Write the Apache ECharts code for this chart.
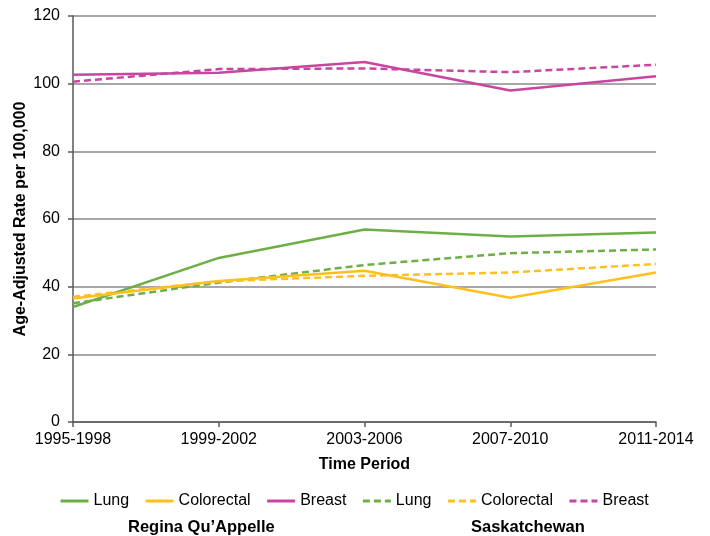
<!DOCTYPE html>
<html>
<head>
<meta charset="utf-8">
<script src="https://cdn.jsdelivr.net/npm/echarts@6/dist/echarts.min.js"></script>
<style>
  html, body { margin: 0; padding: 0; background: #fff; }
  #chart { width: 710px; height: 536px; }
</style>
</head>
<body>
<div id="chart"></div>
<script>
// Time periods on the x axis
const periods = ['1995-1998', '1999-2002', '2003-2006', '2007-2010', '2011-2014'];

// Age-adjusted incidence rates per 100,000 — Regina Qu'Appelle
const rqLung = [34.0, 48.5, 56.9, 54.8, 56.0];
const rqColorectal = [36.5, 41.7, 44.7, 36.7, 44.2];
const rqBreast = [102.6, 103.2, 106.4, 98.0, 102.2];

// Age-adjusted incidence rates per 100,000 — Saskatchewan
const skLung = [35.1, 41.2, 46.4, 49.9, 51.0];
const skColorectal = [37.0, 41.6, 43.2, 44.2, 46.7];
const skBreast = [100.6, 104.3, 104.5, 103.4, 105.6];

const groupLabels = ['Regina Qu\u2019Appelle', 'Saskatchewan'];

const GREEN = '#6fae46';
const GOLD = '#ffc01e';
const MAGENTA = '#c8469f';
const FONT = 'Liberation Sans, Arial, sans-serif';

function lineSeries(name, data, color, dashed) {
  return {
    name: name,
    type: 'line',
    data: data,
    symbol: 'none',
    showSymbol: false,
    smooth: false,
    color: color,
    lineStyle: {
      color: color,
      width: 2.5,
      type: dashed ? [7, 4] : 'solid'
    },
    z: dashed ? 3 : 4
  };
}

const series = [
  lineSeries('Lung|rq', rqLung, GREEN, false),
  lineSeries('Colorectal|rq', rqColorectal, GOLD, false),
  lineSeries('Breast|rq', rqBreast, MAGENTA, false),
  lineSeries('Lung|sk', skLung, GREEN, true),
  lineSeries('Colorectal|sk', skColorectal, GOLD, true),
  lineSeries('Breast|sk', skBreast, MAGENTA, true)
];

const chart = echarts.init(document.getElementById('chart'), null, { renderer: 'canvas' });

chart.setOption({
  animation: false,
  backgroundColor: '#ffffff',
  textStyle: { fontFamily: FONT },
  grid: { left: 73, right: 54, top: 16, bottom: 114, containLabel: false, outerBoundsMode: 'none' },
  xAxis: {
    type: 'category',
    data: periods,
    boundaryGap: false,
    name: 'Time Period',
    nameLocation: 'middle',
    nameGap: 35,
    nameMoveOverlap: false,
    nameTextStyle: { fontFamily: FONT, fontSize: 16, fontWeight: 'bold', color: '#000' },
    axisLine: { show: true, lineStyle: { color: '#595959', width: 1.5 } },
    axisTick: { show: true, alignWithLabel: true, length: 5, lineStyle: { color: '#595959', width: 1.5 } },
    axisLabel: { fontFamily: FONT, fontSize: 16, color: '#000', margin: 10, interval: 0 },
    splitLine: { show: false }
  },
  yAxis: {
    type: 'value',
    min: 0,
    max: 120,
    interval: 20,
    name: 'Age-Adjusted Rate per 100,000',
    nameLocation: 'middle',
    nameGap: 44,
    nameMoveOverlap: false,
    nameTextStyle: { fontFamily: FONT, fontSize: 16, fontWeight: 'bold', color: '#000' },
    axisLine: { show: true, lineStyle: { color: '#595959', width: 1.5 } },
    axisTick: { show: true, length: 5, lineStyle: { color: '#595959', width: 1.5 } },
    axisLabel: { fontFamily: FONT, fontSize: 16, color: '#000', margin: 13 },
    splitLine: { show: true, lineStyle: { color: '#8a8a8a', width: 1.5 } }
  },
  legend: {
    left: 59,
    top: 493,
    padding: 0,
    itemWidth: 28,
    itemHeight: 14,
    itemGap: 15,
    itemStyle: { opacity: 0 },
    lineStyle: { width: 3 },
    formatter: function (name) { return name.split('|')[0]; },
    textStyle: { fontFamily: FONT, fontSize: 16, color: '#000' },
    data: series.map(s => s.name)
  },
  graphic: [
    {
      type: 'text',
      left: 128,
      top: 519,
      style: { text: groupLabels[0], fontFamily: FONT, fontSize: 16.5, fontWeight: 'bold', fill: '#000' }
    },
    {
      type: 'text',
      left: 471,
      top: 519,
      style: { text: groupLabels[1], fontFamily: FONT, fontSize: 16.5, fontWeight: 'bold', fill: '#000' }
    }
  ],
  series: series
});
</script>
</body>
</html>
